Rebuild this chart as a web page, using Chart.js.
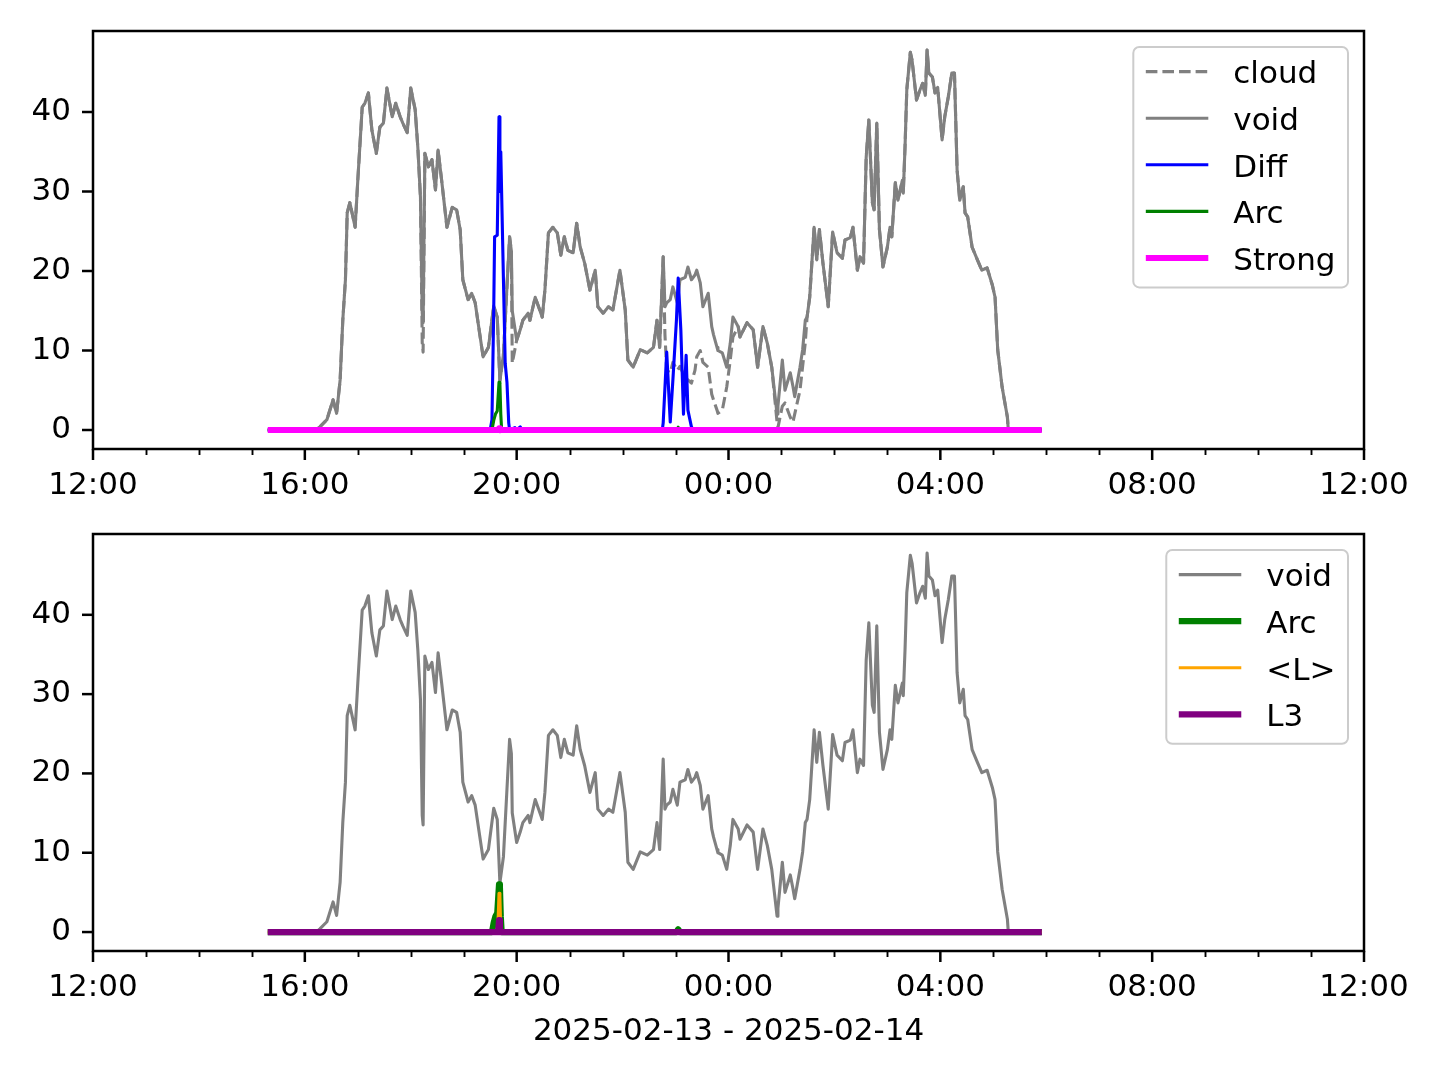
<!DOCTYPE html>
<html>
<head>
<meta charset="utf-8">
<script src="https://cdn.jsdelivr.net/npm/chart.js@4.4.1/dist/chart.umd.min.js"></script>
<style>
  html, body { margin: 0; padding: 0; background: #fff; }
  #wrap   { position: relative; width: 1440px; height: 1080px; }
  #topBox { position: absolute; left: 0; top: 0;     width: 1440px; height: 500px; }
  #botBox { position: absolute; left: 0; top: 500px; width: 1440px; height: 580px; }
</style>
</head>
<body>
<div id="wrap">
  <div id="topBox"><canvas id="topChart"></canvas></div>
  <div id="botBox"><canvas id="botChart"></canvas></div>
</div>
<script>
//-----------------------------------------------------------------------------
// data (clock times, Feb 13 12:00 -> Feb 14 12:00)
//-----------------------------------------------------------------------------
const xTickLabels = ['12:00', '16:00', '20:00', '00:00', '04:00', '08:00', '12:00'];
const majorHours  = [0, 4, 8, 12, 16, 20, 24];
const yTicks      = [0, 10, 20, 30, 40];
const dateTitle   = '2025-02-13 - 2025-02-14';

// shared time stamps for void / cloud
const stamps = [
  '15:18','16:13','16:17','16:25','16:32','16:36','16:40','16:43','16:46','16:48',
  '16:51','16:57','17:00','17:05','17:08','17:12','17:16','17:21','17:25','17:29',
  '17:33','17:39','17:43','17:48','17:51','17:56','18:00','18:05','18:08','18:11',
  '18:13','18:14','18:16','18:20','18:24','18:28','18:31','18:35','18:41','18:47',
  '18:52','18:56','18:59','19:05','19:09','19:13','19:18','19:22','19:28','19:34',
  '19:38','19:41','19:45','19:49','19:52','19:54','19:55','20:00','20:04','20:07',
  '20:13','20:15','20:21','20:29','20:32','20:36','20:41','20:46','20:50','20:54',
  '20:58','21:04','21:08','21:12','21:17','21:23','21:29','21:32','21:38','21:44',
  '21:49','21:57','22:03','22:06','22:12','22:20','22:28','22:35','22:39','22:42',
  '22:46','22:48','22:50','22:54','22:57','23:02','23:05','23:11','23:14','23:18',
  '23:22','23:24','23:28','23:31','23:37','23:41','23:43','23:47','23:48','23:53',
  '23:58','00:02','00:05','00:11','00:13','00:21','00:28','00:33','00:39','00:44',
  '00:49','00:55','00:56','01:01','01:04','01:10','01:13','01:15','01:21','01:24',
  '01:27','01:29','01:32','01:37','01:40','01:43','01:47','01:53','01:58','02:03',
  '02:09','02:12','02:18','02:21','02:26','02:29','02:33','02:36','02:39','02:43',
  '02:45','02:48','02:51','02:55','03:00','03:03','03:05','03:09','03:12','03:17',
  '03:18','03:20','03:22','03:26','03:28','03:33','03:37','03:40','03:43','03:45',
  '03:47','03:51','03:54','03:57','04:02','04:05','04:09','04:13','04:16','04:19',
  '04:22','04:26','04:28','04:31','04:36','04:42','04:47','04:53','04:59','05:02',
  '05:05','05:10','05:16','05:17','05:55'
];

const voidValues = [
  0, 0, 0.4, 1.3, 3.8, 2.1, 6.3, 13.8, 18.9, 27.3,
  28.6, 25.5, 31.4, 40.6, 41.1, 42.4, 37.7, 34.8, 38.1, 38.6,
  43.0, 39.4, 41.1, 39.4, 38.6, 37.4, 43.0, 40.3, 35.6, 29.3,
  14.7, 13.5, 34.8, 33.1, 34.0, 30.2, 35.2, 31.4, 25.5, 28.0,
  27.7, 25.2, 18.9, 16.4, 17.2, 16.0, 12.2, 9.2, 10.4, 15.6,
  14.2, 6.2, 9.5, 18.0, 24.3, 22.5, 15.0, 11.3, 12.6, 13.8,
  14.7, 13.8, 16.7, 14.2, 17.6, 24.8, 25.5, 24.8, 22.0, 24.3,
  22.6, 22.3, 26.0, 23.0, 21.0, 17.6, 20.1, 15.5, 14.7, 15.5,
  15.1, 20.1, 15.1, 8.8, 7.9, 10.1, 9.7, 10.4, 13.8, 10.4,
  21.8, 15.5, 16.0, 16.4, 18.0, 16.0, 18.9, 19.2, 20.5, 18.9,
  19.5, 20.1, 18.5, 15.5, 17.2, 13.0, 12.0, 10.4, 10.0, 9.7,
  7.9, 10.9, 14.2, 13.0, 11.7, 13.5, 12.6, 7.9, 13.0, 10.9,
  7.9, 2.0, 3.0, 8.8, 5.0, 7.2, 5.5, 4.2, 7.9, 10.1,
  13.8, 14.2, 16.7, 25.5, 21.4, 25.2, 21.0, 15.5, 24.9, 22.3,
  21.6, 23.9, 24.2, 25.5, 20.1, 21.8, 21.0, 34.3, 39.0, 28.6,
  27.7, 38.6, 25.2, 20.5, 23.0, 25.5, 24.3, 31.1, 28.9, 31.4,
  29.8, 35.6, 42.8, 47.5, 46.5, 41.5, 42.8, 43.6, 42.1, 47.8,
  44.9, 44.4, 42.4, 43.1, 36.5, 39.4, 41.9, 44.9, 44.9, 32.7,
  28.9, 30.6, 27.3, 26.8, 23.0, 21.4, 20.1, 20.4, 18.2, 16.7,
  10.1, 5.4, 1.6, 0, 0
];

const cloudValues = [
  0, 0, 0.4, 1.3, 3.8, 2.1, 6.3, 13.8, 18.9, 27.3,
  28.6, 25.5, 31.4, 40.6, 41.1, 42.4, 37.7, 34.8, 38.1, 38.6,
  43.0, 39.4, 41.1, 39.4, 38.6, 37.4, 43.0, 40.3, 35.6, 29.3,
  11.0, 9.8, 34.8, 33.1, 34.0, 30.2, 35.2, 31.4, 25.5, 28.0,
  27.7, 25.2, 18.9, 16.4, 17.2, 16.0, 12.2, 9.2, 10.4, 15.6,
  14.2, 6.2, 9.5, 18.0, 24.3, 22.5, 8.4, 11.3, 12.6, 13.8,
  14.7, 13.8, 16.7, 14.2, 17.6, 24.8, 25.5, 24.8, 22.0, 24.3,
  22.6, 22.3, 26.0, 23.0, 21.0, 17.6, 20.1, 15.5, 14.7, 15.5,
  15.1, 20.1, 15.1, 8.8, 7.9, 10.1, 9.7, 10.4, 13.8, 10.4,
  21.8, 12.0, 7.5, 7.2, 8.5, 7.5, 8.0, 6.5, 6.3, 5.9,
  7.5, 9.2, 10.0, 8.5, 7.9, 4.5, 3.8, 2.5, 2.1, 2.5,
  5.4, 8.8, 11.7, 13.0, 11.7, 13.5, 12.6, 7.9, 13.0, 10.9,
  7.9, 1.0, 0.3, 3.0, 3.4, 1.6, 1.0, 2.0, 5.0, 8.0,
  11.0, 14.2, 16.7, 25.5, 21.4, 25.2, 21.0, 15.5, 24.9, 22.3,
  21.6, 23.9, 24.2, 25.5, 20.1, 21.8, 21.0, 34.3, 39.0, 28.6,
  27.7, 38.6, 25.2, 20.5, 23.0, 25.5, 24.3, 31.1, 28.9, 31.4,
  29.8, 35.6, 42.8, 47.5, 46.5, 41.5, 42.8, 43.6, 42.1, 47.8,
  44.9, 44.4, 42.4, 43.1, 36.5, 39.4, 41.9, 44.9, 44.9, 32.7,
  28.9, 30.6, 27.3, 26.8, 23.0, 21.4, 20.1, 20.4, 18.2, 16.7,
  10.1, 5.4, 1.6, 0, 0
];

const diffTimes  = ['15:18','19:30','19:32','19:34','19:35','19:38','19:40','19:41','19:42','19:45',
                    '19:47','19:49','19:51','19:52','19:58','20:00','20:04','20:06','22:45','22:46',
                    '22:50','22:54','22:57','23:01','23:03','23:06','23:09','23:12','23:14','23:18',
                    '23:20','05:55'];
const diffValues = [0, 0, 1.3, 15.0, 24.3, 24.5, 39.4, 30.0, 35.0, 19.0,
                    8.4, 6.0, 0.9, 0, 0.3, 0, 0.4, 0, 0, 0.9,
                    9.8, 1.0, 6.3, 13.8, 19.1, 12.6, 2.0, 9.4, 2.5, 0.4,
                    0, 0];

const arcTimes  = ['15:18','19:32','19:34','19:36','19:38','19:40','19:41','19:42','19:43','23:01','23:03','23:05','05:55'];
const arcValues = [0, 0, 1.2, 2.0, 2.4, 6.0, 5.8, 2.0, 0, 0, 0.35, 0, 0];

const strongTimes  = ['15:18','19:39','19:40','19:41','05:55'];
const strongValues = [0, 0, 0.2, 0, 0];

const meanLTimes  = ['15:18','19:38','19:39','19:40','19:41','19:42','05:55'];
const meanLValues = [0, 0, 1.5, 4.9, 4.5, 0, 0];

const l3Times  = ['15:18','19:39','19:40','19:41','05:55'];
const l3Values = [0, 0, 1.5, 0, 0];

//-----------------------------------------------------------------------------
// helpers
//-----------------------------------------------------------------------------
// hours after 12:00 on the first day
function toHours(t) {
    const [h, m] = t.split(':').map(Number);
    let v = h + m / 60 - 12;
    if (h < 12) v += 24;
    return v;
}

function series(times, values) {
    return times.map((t, i) => ({ x: toHours(t), y: values[i] }));
}

const FONT = "'DejaVu Sans', 'Liberation Sans', sans-serif";
Chart.defaults.font.family = FONT;
Chart.defaults.font.size   = 31;
Chart.defaults.color       = '#000';

//-----------------------------------------------------------------------------
// frame, tick marks and matplotlib style legend
//-----------------------------------------------------------------------------
const mplFrame = {
    id: 'mplFrame',
    afterDraw(chart) {
        const ctx = chart.ctx;
        const a   = chart.chartArea;
        const xs  = chart.scales.x;
        const ys  = chart.scales.y;

        ctx.save();
        ctx.strokeStyle = '#000';
        ctx.lineCap = 'butt';

        // minor ticks every hour
        ctx.lineWidth = 1.9;
        for (let h = 0; h <= 24; h++) {
            if (h % 4 === 0) continue;
            const px = Math.round(xs.getPixelForValue(h)) + 0.5;
            ctx.beginPath(); ctx.moveTo(px, a.bottom); ctx.lineTo(px, a.bottom + 6); ctx.stroke();
        }
        ctx.lineWidth = 2.5;
        majorHours.forEach(h => {
            const px = xs.getPixelForValue(h);
            ctx.beginPath(); ctx.moveTo(px, a.bottom); ctx.lineTo(px, a.bottom + 11); ctx.stroke();
        });
        yTicks.forEach(v => {
            const py = ys.getPixelForValue(v);
            ctx.beginPath(); ctx.moveTo(a.left - 11, py); ctx.lineTo(a.left, py); ctx.stroke();
        });
        ctx.strokeRect(a.left, a.top, a.right - a.left, a.bottom - a.top);

        // legend, upper right
        const sets = chart.data.datasets;
        ctx.font = `31px ${FONT}`;
        const maxW  = Math.max(...sets.map(d => ctx.measureText(d.label).width));
        const rowH  = 46.6;
        const boxW  = 12.5 + 62.5 + 25 + maxW + 12.5;
        const boxH  = 24.6 + (sets.length - 1) * rowH + 29.4;
        const right = a.right - 16;
        const top   = a.top + 16;
        const left  = right - boxW;
        const r = 6;

        ctx.beginPath();
        ctx.moveTo(left + r, top);
        ctx.lineTo(right - r, top);
        ctx.arcTo(right, top, right, top + r, r);
        ctx.lineTo(right, top + boxH - r);
        ctx.arcTo(right, top + boxH, right - r, top + boxH, r);
        ctx.lineTo(left + r, top + boxH);
        ctx.arcTo(left, top + boxH, left, top + boxH - r, r);
        ctx.lineTo(left, top + r);
        ctx.arcTo(left, top, left + r, top, r);
        ctx.closePath();
        ctx.fillStyle = 'rgba(255,255,255,0.8)';
        ctx.fill();
        ctx.strokeStyle = '#cccccc';
        ctx.lineWidth = 2;
        ctx.stroke();

        sets.forEach((d, i) => {
            const y = top + 24.6 + i * rowH;
            ctx.strokeStyle = d.borderColor;
            ctx.lineWidth   = d.borderWidth;
            ctx.setLineDash(d.borderDash || []);
            ctx.beginPath(); ctx.moveTo(left + 12.5, y); ctx.lineTo(left + 75, y); ctx.stroke();
            ctx.setLineDash([]);
            ctx.fillStyle = '#000';
            ctx.textAlign = 'left';
            ctx.textBaseline = 'alphabetic';
            ctx.fillText(d.label, left + 100, y + 11.8);
        });
        ctx.restore();
    }
};

//-----------------------------------------------------------------------------
// shared options for both panels
//-----------------------------------------------------------------------------
function makeOptions(padTop, xHeight, title) {
    return {
        responsive: true,
        maintainAspectRatio: false,
        animation: false,
        devicePixelRatio: 1,
        layout: { padding: { left: 0, right: 76, top: padTop, bottom: 0 } },
        elements: {
            point: { radius: 0 },
            line:  { tension: 0, borderJoinStyle: 'round', fill: false }
        },
        plugins: {
            legend:  { display: false },
            tooltip: { enabled: false }
        },
        scales: {
            x: {
                type: 'linear',
                min: 0,
                max: 24,
                afterBuildTicks: s => { s.ticks = majorHours.map(v => ({ value: v })); },
                afterFit: s => { s.height = xHeight; },
                grid:   { display: true, drawOnChartArea: false, drawTicks: true, tickLength: 11, tickColor: 'rgba(0,0,0,0)' },
                border: { display: false },
                ticks:  {
                    autoSkip: false, maxRotation: 0, padding: 7,
                    callback: (v, i) => xTickLabels[i]
                },
                title: {
                    display: !!title,
                    text: title || '',
                    padding: { top: 0, bottom: 29 }
                }
            },
            y: {
                min: -2.39,
                max: 50.19,
                afterBuildTicks: s => { s.ticks = yTicks.map(v => ({ value: v })); },
                afterFit: s => { s.width = 93; },
                grid:   { display: true, drawOnChartArea: false, drawTicks: true, tickLength: 11, tickColor: 'rgba(0,0,0,0)' },
                border: { display: false },
                ticks:  { padding: 11 }
            }
        }
    };
}

const GRAY = '#808080';

// top panel
new Chart(document.getElementById('topChart').getContext('2d'), {
    type: 'line',
    data: {
        datasets: [
            { label: 'cloud',  data: series(stamps, cloudValues),      borderColor: GRAY,      borderWidth: 3.1, borderDash: [11.6, 5], order: 5 },
            { label: 'void',   data: series(stamps, voidValues),       borderColor: GRAY,      borderWidth: 3.1, order: 4 },
            { label: 'Diff',   data: series(diffTimes, diffValues),    borderColor: '#0000ff', borderWidth: 3.1, order: 3 },
            { label: 'Arc',    data: series(arcTimes, arcValues),      borderColor: '#008000', borderWidth: 3.1, order: 2 },
            { label: 'Strong', data: series(strongTimes, strongValues),borderColor: '#ff00ff', borderWidth: 6.2, order: 1 }
        ]
    },
    options: makeOptions(31, 51, null),
    plugins: [mplFrame]
});

// bottom panel
new Chart(document.getElementById('botChart').getContext('2d'), {
    type: 'line',
    data: {
        datasets: [
            { label: 'void', data: series(stamps, voidValues),       borderColor: GRAY,      borderWidth: 3.1, order: 4 },
            { label: 'Arc',  data: series(arcTimes, arcValues),      borderColor: '#008000', borderWidth: 6.2, order: 3 },
            { label: '<L>',  data: series(meanLTimes, meanLValues),  borderColor: '#ffa500', borderWidth: 3.1, order: 2 },
            { label: 'L3',   data: series(l3Times, l3Values),        borderColor: '#800080', borderWidth: 6.2, order: 1 }
        ]
    },
    options: makeOptions(34, 129, dateTitle),
    plugins: [mplFrame]
});
</script>
</body>
</html>
